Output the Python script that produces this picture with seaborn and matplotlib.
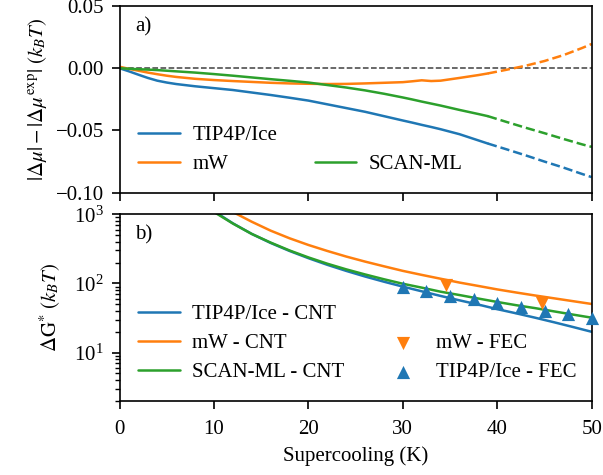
import numpy as np
import pandas as pd
import matplotlib
matplotlib.use("Agg")
import matplotlib.pyplot as plt
from matplotlib.lines import Line2D
import seaborn as sns

# ---------------- data ----------------
# Panel a) : |Δμ| - |Δμ_exp|  (k_B T)
K_solid = [0, 1, 2, 3, 4, 5, 6, 8, 10, 12, 14, 16, 18, 20, 22, 24, 26, 28, 30, 31, 32, 33, 34, 36, 38, 39]
tip4p_solid = [0, -0.0025, -0.0052, -0.0078, -0.0100, -0.0115, -0.0127, -0.0145, -0.0160, -0.0175,
               -0.0195, -0.0215, -0.0237, -0.0260, -0.0290, -0.0320, -0.0350, -0.0385, -0.0420,
               -0.0437, -0.0455, -0.0472, -0.0490, -0.0530, -0.0580, -0.0605]
mw_solid = [0.0012, -0.0005, -0.0020, -0.0035, -0.0048, -0.0060, -0.0070, -0.0085, -0.0095, -0.0103,
            -0.0110, -0.0117, -0.0122, -0.0125, -0.0127, -0.0126, -0.0122, -0.0117, -0.0112,
            -0.0105, -0.0097, -0.0103, -0.0100, -0.0078, -0.0055, -0.0042]
scan_solid = [0, -0.0004, -0.0008, -0.0011, -0.0015, -0.0020, -0.0025, -0.0035, -0.0047, -0.0060,
              -0.0074, -0.0088, -0.0101, -0.0115, -0.0135, -0.0155, -0.0178, -0.0205, -0.0235,
              -0.0251, -0.0268, -0.0284, -0.0300, -0.0335, -0.0368, -0.0385]

K_dash = [39, 41, 43, 45, 47, 49, 50]
tip4p_dash = [-0.0605, -0.0652, -0.0700, -0.0750, -0.0798, -0.0850, -0.0875]
mw_dash = [-0.0042, -0.0012, 0.0020, 0.0058, 0.0105, 0.0163, 0.0195]
scan_dash = [-0.0385, -0.0432, -0.0478, -0.0522, -0.0568, -0.0612, -0.0632]

# Panel b) : ΔG* (k_B T), CNT curves
K_cnt = [10, 12, 14, 16, 18, 20, 22, 24, 26, 28, 30, 32, 34, 36, 38, 40, 42, 44, 46, 48, 50]
tip4p_cnt = [1110, 740, 520, 385, 295, 232, 186, 152, 126, 106, 90, 77, 66, 57, 49.5, 42.5, 37, 32, 27.5, 23.5, 20]
scan_cnt = [1080, 735, 520, 390, 300, 238, 193, 160, 135, 115, 99, 87, 76, 68, 60.5, 54, 48.5, 44, 39.5, 35.5, 32]
K_cnt_mw = [12, 14, 16, 18, 20, 22, 24, 26, 28, 30, 32, 34, 36, 38, 40, 42, 44, 46, 48, 50]
mw_cnt = [1080, 780, 580, 450, 360, 295, 245, 207, 177, 152, 133, 117, 103, 92, 82, 74, 67, 61, 55.5, 50.5]

# FEC points
K_fec_mw = [34.6, 44.7]
mw_fec = [96, 53]
K_fec_tip4p = [30, 32.5, 35, 37.5, 40, 42.5, 45, 47.5, 50]
tip4p_fec = [90, 78.7, 65.9, 59.1, 52.8, 46.2, 40.5, 36.2, 32.1]

xticks = [0, 10, 20, 30, 40, 50]
yticks_a = [-0.10, -0.05, 0.00, 0.05]

# ---------------- style ----------------
sns.set_style("ticks")
plt.rcParams.update({
    "font.family": ["Liberation Serif", "DejaVu Serif"],
    "mathtext.fontset": "stix",
    "font.size": 15,
    "axes.linewidth": 1.2,
    "xtick.direction": "out",
    "ytick.direction": "out",
    "xtick.major.size": 5.8,
    "ytick.major.size": 5.8,
    "xtick.minor.size": 3.5,
    "ytick.minor.size": 3.5,
    "xtick.major.width": 1.2,
    "ytick.major.width": 1.2,
    "ytick.minor.width": 1.0,
    "xtick.major.pad": 8.0,
    "ytick.major.pad": 5.5,
    "ytick.minor.pad": 5.5,
    "xtick.color": "black",
    "ytick.color": "black",
    "axes.edgecolor": "black",
    "text.color": "black",
    "axes.labelcolor": "black",
})

blue, orange, green = "#1f77b4", "#ff7f0e", "#2ca02c"
lw = 1.8

fig = plt.figure(figsize=(6.03, 4.75), dpi=100)
axA = fig.add_axes([0.1982, 0.5943, 0.7831, 0.3931])
axB = fig.add_axes([0.1982, 0.1558, 0.7831, 0.3931], sharex=axA)

# ---------- panel a ----------
axA.axhline(0, color="0.25", lw=1.1, ls="--", zorder=1)
for ys, yd, c, lab in [(tip4p_solid, tip4p_dash, blue, "TIP4P/Ice"),
                       (mw_solid, mw_dash, orange, "mW"),
                       (scan_solid, scan_dash, green, "SCAN-ML")]:
    sns.lineplot(x=K_solid, y=ys, color=c, lw=lw, ax=axA, label=lab, sort=False)
    sns.lineplot(x=K_dash, y=yd, color=c, lw=lw, ax=axA, linestyle="--", sort=False)

axA.set_ylim(-0.10, 0.05)
axA.set_yticks(yticks_a)
axA.set_xlim(0, 50)
axA.set_xticks(xticks)
axA.tick_params(labelbottom=False)
axA.set_ylabel(r"$|\Delta \mu| - |\Delta \mu^{\mathrm{exp}}|\ (k_B T)$", labelpad=5)
axA.text(0.033, 0.89, "a)", transform=axA.transAxes, ha="left", va="center")

h, l = axA.get_legend_handles_labels()
hd = dict(zip(l, h))
blank = Line2D([], [], linestyle="none")
axA.legend([hd["TIP4P/Ice"], hd["mW"], blank, hd["SCAN-ML"]],
           ["TIP4P/Ice", "mW", "", "SCAN-ML"],
           ncol=2, loc="lower left", frameon=False, labelspacing=0.45,
           handletextpad=0.6, columnspacing=1.8)

# ---------- panel b ----------
sns.lineplot(x=K_cnt, y=tip4p_cnt, color=blue, lw=lw, ax=axB, label="TIP4P/Ice - CNT")
sns.lineplot(x=K_cnt_mw, y=mw_cnt, color=orange, lw=lw, ax=axB, label="mW - CNT")
sns.lineplot(x=K_cnt, y=scan_cnt, color=green, lw=lw, ax=axB, label="SCAN-ML - CNT")
sns.scatterplot(x=K_fec_mw, y=mw_fec, color=orange, marker="v", s=90, linewidth=0,
                ax=axB, label="mW - FEC", zorder=5, clip_on=False)
sns.scatterplot(x=K_fec_tip4p, y=tip4p_fec, color=blue, marker="^", s=90, linewidth=0,
                ax=axB, label="TIP4P/Ice - FEC", zorder=5, clip_on=False)

axB.set_yscale("log")
axB.set_ylim(2, 1000)
axB.set_xlim(0, 50)
axB.set_xticks(xticks)
axB.set_xlabel("Supercooling (K)", labelpad=5)
axB.set_ylabel(r"$\Delta \mathrm{G}^{*}\ (k_B T)$", labelpad=8)
axB.text(0.033, 0.89, "b)", transform=axB.transAxes, ha="left", va="center")

h, l = axB.get_legend_handles_labels()
hd = dict(zip(l, h))
axB.legend([hd["TIP4P/Ice - CNT"], hd["mW - CNT"], hd["SCAN-ML - CNT"],
            blank, hd["mW - FEC"], hd["TIP4P/Ice - FEC"]],
           ["TIP4P/Ice - CNT", "mW - CNT", "SCAN-ML - CNT", "", "mW - FEC", "TIP4P/Ice - FEC"],
           ncol=2, loc="lower left", frameon=False, labelspacing=0.45,
           handletextpad=0.6, columnspacing=1.8)

fig.savefig("out.png", dpi=100)
